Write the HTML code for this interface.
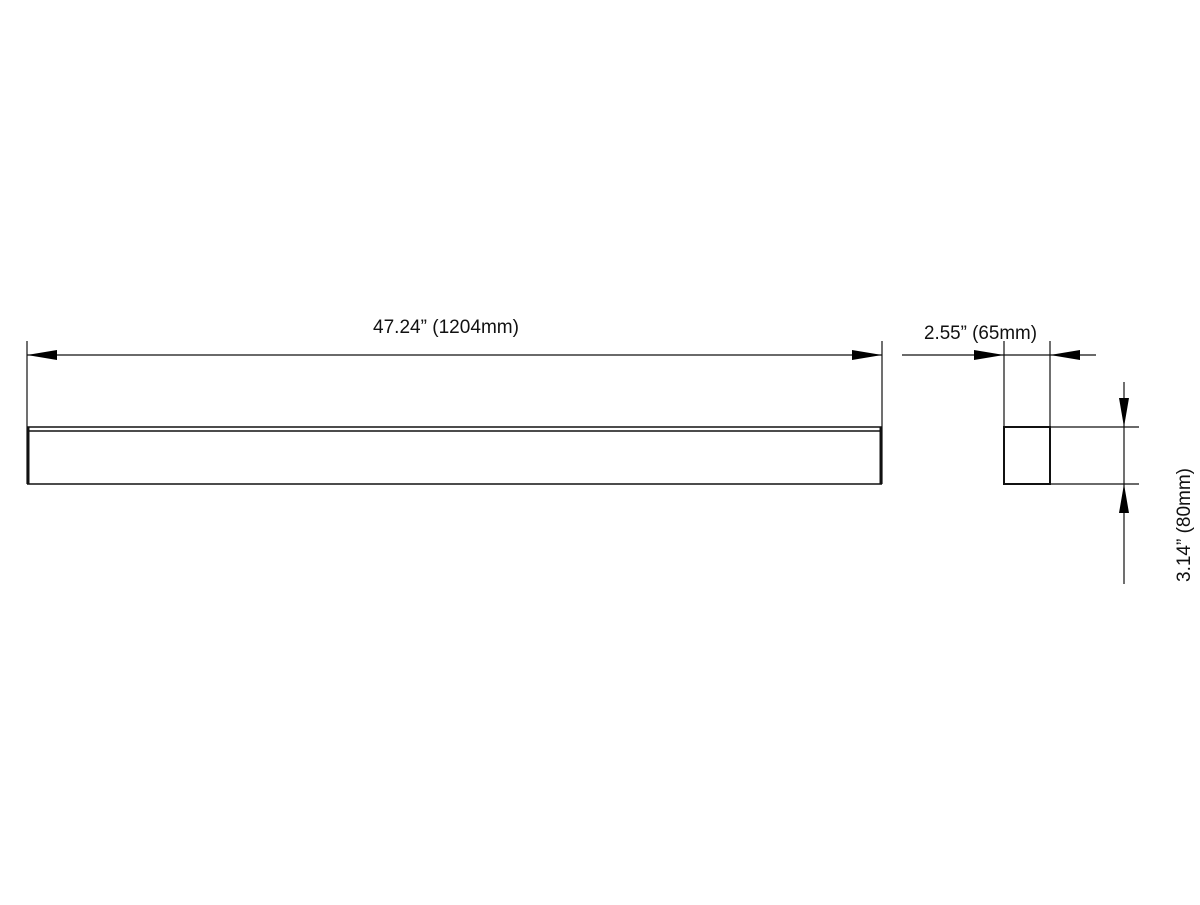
<!DOCTYPE html>
<html><head><meta charset="utf-8"><style>html,body{margin:0;padding:0;background:#fff}</style></head>
<body>
<svg width="1200" height="900" viewBox="0 0 1200 900" xmlns="http://www.w3.org/2000/svg">
<rect width="1200" height="900" fill="#fff"/>
<g stroke="#111" fill="none">
  <!-- long bar -->
  <line x1="27" y1="341" x2="27" y2="484" stroke-width="1.2"/>
  <line x1="882" y1="341" x2="882" y2="484" stroke-width="1.2"/>
  <line x1="27" y1="355" x2="882" y2="355" stroke-width="1.2"/>
  <line x1="27" y1="427" x2="882" y2="427" stroke-width="1.5"/>
  <line x1="27" y1="431" x2="882" y2="431" stroke-width="1.5"/>
  <line x1="27" y1="484" x2="882" y2="484" stroke-width="1.5"/>
  <line x1="28" y1="427" x2="28" y2="484" stroke-width="3"/>
  <line x1="881" y1="427" x2="881" y2="484" stroke-width="3"/>
  <!-- side view -->
  <rect x="1004" y="427" width="46" height="57" stroke-width="2"/>
  <line x1="1004" y1="341" x2="1004" y2="427" stroke-width="1.2"/>
  <line x1="1050" y1="341" x2="1050" y2="427" stroke-width="1.2"/>
  <line x1="902" y1="355" x2="1096" y2="355" stroke-width="1.2"/>
  <line x1="1050" y1="427" x2="1139" y2="427" stroke-width="1.2"/>
  <line x1="1050" y1="484" x2="1139" y2="484" stroke-width="1.2"/>
  <line x1="1124" y1="382" x2="1124" y2="584" stroke-width="1.2"/>
</g>
<g fill="#000">
  <polygon points="27,355 57,350 57,360"/>
  <polygon points="882,355 852,350 852,360"/>
  <polygon points="1004,355 974,350 974,360"/>
  <polygon points="1050,355 1080,350 1080,360"/>
  <polygon points="1124,427 1119,398 1129,398"/>
  <polygon points="1124,484 1119,513 1129,513"/>
</g>
<g font-family="Liberation Sans, sans-serif" font-size="19" fill="#111">
  <text x="373" y="333" textLength="146" lengthAdjust="spacingAndGlyphs">47.24” (1204mm)</text>
  <text x="924" y="339" textLength="113" lengthAdjust="spacingAndGlyphs">2.55” (65mm)</text>
  <text transform="translate(1190,582) rotate(-90)" x="0" y="0" textLength="114" lengthAdjust="spacingAndGlyphs">3.14” (80mm)</text>
</g>
</svg>
</body></html>
